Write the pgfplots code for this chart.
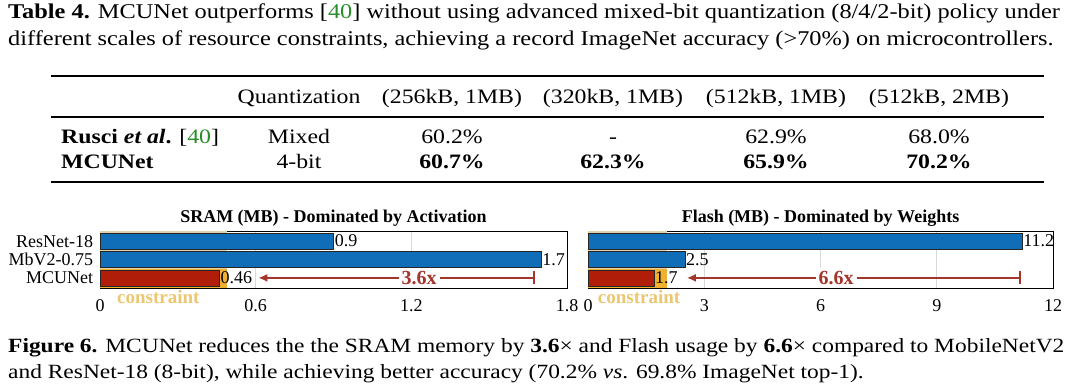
\documentclass[border=0pt]{standalone}
\usepackage{pgfplots}
\pgfplotsset{compat=1.18}
\usepackage{fontspec}
\setmainfont{Liberation Serif}[FakeStretch=1.16]
\newfontfamily\cf{Liberation Serif}
\usetikzlibrary{arrows.meta}
\definecolor{barblue}{RGB}{16,110,184}
\definecolor{barred}{RGB}{176,30,10}
\definecolor{cgold}{RGB}{240,176,48}
\definecolor{ctan}{RGB}{224,208,172}
\definecolor{arrred}{RGB}{165,52,42}
\definecolor{ctext}{RGB}{236,198,112}
\definecolor{citegreen}{RGB}{40,140,40}
\newcommand{\capfont}{\fontsize{21}{24}\selectfont}
\newcommand{\figfont}{\fontsize{20.2}{24}\selectfont}
\newcommand{\tabfont}{\fontsize{20.5}{24}\selectfont}
\pgfplotsset{
  memplot/.style={
    scale only axis, height=57pt,
    xbar, bar shift=0pt, bar width=0.87,
    ymin=-0.55, ymax=2.55, y dir=reverse,
    ytick={0,1,2},
    xmajorgrids, major grid style={gray!30, line width=0.8pt},
    tick style={draw=none},
    axis line style={line width=1pt},
    clip=false,
    /pgf/number format/assume math mode=true,
    tick label style={font=\cf\fontsize{18}{20}\selectfont},
    xticklabel style={yshift=-8pt},
    yticklabel style={xshift=1pt},
    title style={font=\cf\bfseries\fontsize{18}{20}\selectfont, yshift=-5pt},
    nodes near coords={\pgfmathprintnumber{\pgfplotspointmeta}},
    point meta=x,
    nodes near coords style={anchor=west, inner sep=1pt, font=\cf\fontsize{18}{20}\selectfont, black},
  }
}
\begin{document}
\begin{tikzpicture}[x=1pt,y=1pt]
\useasboundingbox (0,0) rectangle (1067,-391);
% Table caption
\node[anchor=base west, inner sep=0, font=\capfont] at (8,-18) {\textbf{Table 4.} MCUNet outperforms [\textcolor{citegreen}{40}] without using advanced mixed-bit quantization (8/4/2-bit) policy under};
\node[anchor=base west, inner sep=0, font=\capfont] at (8,-45) {different scales of resource constraints, achieving a record ImageNet accuracy (>70\%) on microcontrollers.};
% Table
\draw[line width=2.2pt] (51,-76) -- (1044,-76);
\draw[line width=1.2pt] (51,-117) -- (1044,-117);
\draw[line width=2.2pt] (51,-182) -- (1044,-182);
\begin{scope}[every node/.style={anchor=base, inner sep=0, font=\tabfont}]
\node at (299,-103) {Quantization};
\node at (452,-103) {(256kB, 1MB)};
\node at (613,-103) {(320kB, 1MB)};
\node at (776,-103) {(512kB, 1MB)};
\node at (939,-103) {(512kB, 2MB)};
\node[anchor=base west] at (61,-143) {\textbf{Rusci \textit{et al}.} [\textcolor{citegreen}{40}]};
\node[anchor=base west] at (61,-168) {\textbf{MCUNet}};
\node at (299,-143) {Mixed};
\node at (299,-168) {4-bit};
\node at (452,-143) {60.2\%};
\node at (613,-143) {-};
\node at (776,-143) {62.9\%};
\node at (939,-143) {68.0\%};
\node at (452,-168) {\textbf{60.7\%}};
\node at (613,-168) {\textbf{62.3\%}};
\node at (776,-168) {\textbf{65.9\%}};
\node at (939,-168) {\textbf{70.2\%}};
\end{scope}
% SRAM chart
\begin{axis}[memplot,
  at={(100pt,-231pt)}, anchor=north west, width=467pt,
  xmin=0, xmax=1.8, xtick={0,0.6,1.2,1.8},
  xticklabels={0,0.6,1.2,1.8},
  yticklabels={ResNet-18,MbV2-0.75,MCUNet},
  title={SRAM (MB) - Dominated by Activation},
]
\addplot[xbar=0pt, draw=none, fill=ctan, bar width=3.1, nodes near coords={}, forget plot] coordinates {(0.49,1.0)};
\addplot[xbar=0pt, draw=none, fill=cgold, bar width=1.05, nodes near coords={}, forget plot] coordinates {(0.49,2.025)};
\addplot[draw=black!85, fill=barblue, line width=0.7pt] coordinates {(0.9,0) (1.7,1)};
\addplot[draw=black!85, fill=barred, line width=0.7pt] coordinates {(0.46,2)};
\draw[arrred, line width=1.8pt, {Latex[length=9pt,width=8pt]}-{Bar[width=13pt]}] (axis cs:0.61,2) -- (axis cs:1.675,2);
\node[fill=white, text=arrred, font=\cf\bfseries\fontsize{20}{24}\selectfont, inner sep=3pt] at (axis cs:1.23,2) {3.6x};
\node[text=ctext, font=\cf\bfseries\fontsize{19}{20}\selectfont, anchor=north, inner sep=0, yshift=-2pt] at (axis cs:0.225,2.55) {constraint};
\end{axis}
% Flash chart
\begin{axis}[memplot,
  at={(588pt,-231pt)}, anchor=north west, width=465pt,
  xmin=0, xmax=12, xtick={0,3,6,9,12},
  yticklabels={},
  title={Flash (MB) - Dominated by Weights},
]
\addplot[xbar=0pt, draw=none, fill=ctan, bar width=3.1, nodes near coords={}, forget plot] coordinates {(2.04,1.0)};
\addplot[xbar=0pt, draw=none, fill=cgold, bar width=1.05, nodes near coords={}, forget plot] coordinates {(2.04,2.025)};
\addplot[draw=black!85, fill=barblue, line width=0.7pt] coordinates {(11.2,0) (2.5,1)};
\addplot[draw=black!85, fill=barred, line width=0.7pt] coordinates {(1.7,2)};
\draw[arrred, line width=1.8pt, {Latex[length=9pt,width=8pt]}-{Bar[width=13pt]}] (axis cs:2.55,2) -- (axis cs:11.17,2);
\node[fill=white, text=arrred, font=\cf\bfseries\fontsize{20}{24}\selectfont, inner sep=3pt] at (axis cs:6.4,2) {6.6x};
\node[text=ctext, font=\cf\bfseries\fontsize{19}{20}\selectfont, anchor=north, inner sep=0, yshift=-2pt] at (axis cs:1.32,2.55) {constraint};
\end{axis}
% Figure caption
\node[anchor=base west, inner sep=0, font=\figfont] at (8,-352) {\textbf{Figure 6.} MCUNet reduces the the SRAM memory by \textbf{3.6}× and Flash usage by \textbf{6.6}× compared to MobileNetV2};
\node[anchor=base west, inner sep=0, font=\figfont] at (8,-378) {and ResNet-18 (8-bit), while achieving better accuracy (70.2\% \textit{vs}. 69.8\% ImageNet top-1).};
\end{tikzpicture}
\end{document}
